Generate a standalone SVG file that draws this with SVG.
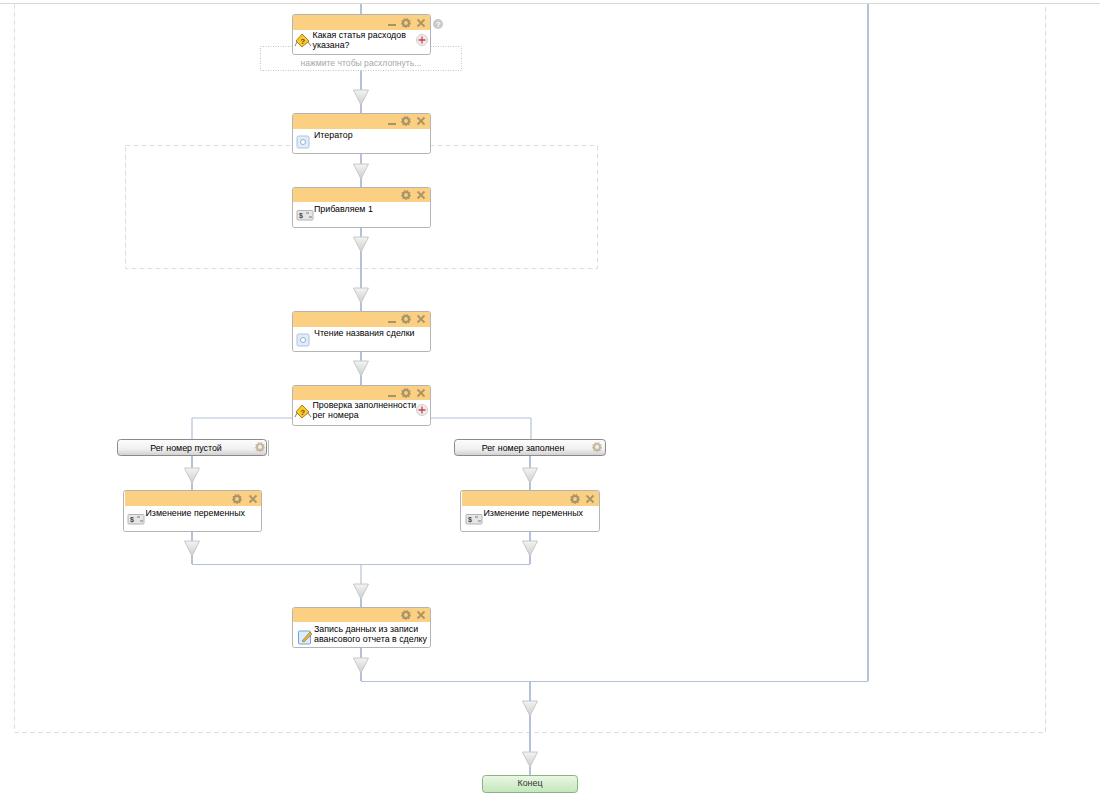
<svg xmlns="http://www.w3.org/2000/svg" width="1100" height="799" viewBox="0 0 1100 799">
<style>
text{font-family:"Liberation Sans",Arial,sans-serif;font-size:8.85px;fill:#000}
.c{fill:none;stroke:#b3c2d8;stroke-width:2}
.t{fill:none;stroke:#b3c2d8;stroke-width:1.2}
.f{fill:none;stroke:#dedede;stroke-width:1;stroke-dasharray:5 3}
.b{fill:#fff;stroke:#b4b4b4;stroke-width:1}
.h{fill:#fbd083}
.g{fill:#a89468}
.btn{fill:url(#gb);stroke:#8a8a8a;stroke-width:1}
</style>
<defs>
<linearGradient id="gb" x1="0" y1="0" x2="0" y2="1"><stop offset="0" stop-color="#fdfdfd"/><stop offset=".6" stop-color="#f0f0f0"/><stop offset="1" stop-color="#cfcfcf"/></linearGradient>
<linearGradient id="gg" x1="0" y1="0" x2="0" y2="1"><stop offset="0" stop-color="#eaf8e5"/><stop offset="1" stop-color="#c4e6bb"/></linearGradient>
<linearGradient id="gt" x1="0" y1="0" x2="0" y2="1"><stop offset="0" stop-color="#f4f4f4"/><stop offset="1" stop-color="#cdcdcd"/></linearGradient>
<g id="tri"><path d="M-7.500 0H7.500L0 15Z" fill="url(#gt)" stroke="#c8c8c8" stroke-width="1"/></g>
<g id="min"><rect x="-4" y="2" width="8" height="2" class="g"/></g>
<g id="gear"><circle r="3" fill="none" stroke="#a89468" stroke-width="2.2"/><circle r="4.4" fill="none" stroke="#a89468" stroke-width="1.1" stroke-dasharray="1.5 1.5"/></g>
<g id="x"><path d="M-3.500 -3.500L3.500 3.500M3.500 -3.500L-3.500 3.500" stroke="#a89468" stroke-width="1.8"/></g>
<g id="plus"><circle r="5.500" fill="#eee" stroke="#cfcfcf"/><path d="M-3.500 0H3.500M0 -3.500V3.500" stroke="#d4404a" stroke-width="1.3"/></g>
<g id="dec"><path d="M-2 -7L5 0L-2 6L-8 0Z" fill="#f6c92e" stroke="#b0801a"/><text x="-3.800" y="3" style="font-size:8px;font-weight:bold;fill:#7a4a10">?</text><path d="M-9 5L-7 1M7 5L4 1" stroke="#8a7a70" fill="none"/></g>
<g id="svc"><rect x="-6" y="-6" width="12" height="12" rx="1.500" fill="#e2ecf8" stroke="#a9c4e4"/><circle r="2.500" fill="#fff" stroke="#8fb0d8"/></g>
<g id="var"><rect x="-8" y="-4.500" width="16" height="9.500" rx="1" fill="#e6e6e6" stroke="#b4b4b4"/><text x="-6" y="3" style="font-size:7px;font-weight:bold;fill:#444">$</text><path d="M1 -2H4M4 2H7" stroke="#777"/></g>
<g id="edit"><rect x="-6.500" y="-6" width="12" height="13" rx="1" fill="#dcecfa" stroke="#6aa5dc"/><path d="M-3 4L5 -5L7 -3L-1 5Z" fill="#e9b23c" stroke="#8a6a20" stroke-width=".6"/></g>
</defs>
<g id="frames">
<path class="f" d="M14.500 4V732.500H1045.500V4"/>
<rect class="f" x="125.500" y="145.500" width="472" height="123"/>
</g>
<g id="connectors">
<path class="c" d="M361 4V14M361 54V113M361 153V187M361 228V311M361 352V385"/>
<path class="c" d="M361 590V607M361 648V681"/>
<path class="c" d="M192 456V490M192 532V564M530 456V490M530 532V564M868 4V681M530 681V775"/>
<path class="t" d="M192 418H293M430 418H531M192 418V440M531 418V440M192 564.500H530M361 564V590M361 681.500H868"/>
<use href="#tri" x="361" y="90"/>
<use href="#tri" x="361" y="164"/>
<use href="#tri" x="361" y="237"/>
<use href="#tri" x="361" y="288"/>
<use href="#tri" x="361" y="361"/>
<use href="#tri" x="192" y="468"/>
<use href="#tri" x="192" y="541"/>
<use href="#tri" x="530" y="468"/>
<use href="#tri" x="530" y="541"/>
<use href="#tri" x="361" y="584"/>
<use href="#tri" x="361" y="658"/>
<use href="#tri" x="530" y="701"/>
<use href="#tri" x="530" y="752"/>
</g>
<path id="topline" d="M0 3.500H1100" fill="none" stroke="#d8d8d8"/>
<g id="expand"><rect x="260.500" y="46.500" width="201" height="24" fill="#fff" stroke="#c4c4c4" stroke-dasharray="1 1.500"/><text x="361" y="66" text-anchor="middle" style="fill:#a8a8a8;font-size:8.6px">нажмите чтобы расхлопнуть...</text></g>
<g id="n1"><rect class="b" x="292.500" y="14.500" width="138" height="40" rx="2"/><rect class="h" x="293" y="15" width="137" height="15"/>
<use href="#min" x="392" y="22"/><use href="#gear" x="406" y="23"/><use href="#x" x="421" y="23"/>
<use href="#dec" x="304" y="41"/><use href="#plus" x="422" y="40"/>
<text x="312.500" y="38">Какая статья расходов</text><text x="312.500" y="48">указана?</text>
<circle cx="438" cy="24" r="5" fill="#c9c9c9"/><text x="435.800" y="27" style="font-size:8px;font-weight:bold;fill:#fff">?</text></g>
<g id="n2"><rect class="b" x="292.500" y="113.500" width="138" height="40" rx="2"/><rect class="h" x="293" y="114" width="137" height="15"/>
<use href="#min" x="392" y="121"/><use href="#gear" x="406" y="121"/><use href="#x" x="421" y="121"/>
<use href="#svc" x="303" y="142"/><text x="314" y="138">Итератор</text></g>
<g id="n3"><rect class="b" x="292.500" y="187.500" width="138" height="40" rx="2"/><rect class="h" x="293" y="188" width="137" height="14"/>
<use href="#gear" x="406" y="195"/><use href="#x" x="421" y="195"/>
<use href="#var" x="305" y="215"/><text x="314" y="212">Прибавляем 1</text></g>
<g id="n4"><rect class="b" x="292.500" y="311.500" width="138" height="40" rx="2"/><rect class="h" x="293" y="312" width="137" height="15"/>
<use href="#min" x="392" y="319"/><use href="#gear" x="406" y="319"/><use href="#x" x="421" y="319"/>
<use href="#svc" x="303" y="340"/><text x="314" y="336">Чтение названия сделки</text></g>
<g id="n5"><rect class="b" x="292.500" y="385.500" width="138" height="40" rx="2"/><rect class="h" x="293" y="386" width="137" height="14"/>
<use href="#min" x="392" y="393"/><use href="#gear" x="406" y="393"/><use href="#x" x="421" y="393"/>
<use href="#dec" x="304" y="412"/><use href="#plus" x="422" y="410"/>
<text x="312.500" y="408">Проверка заполненности</text><text x="312.500" y="418">рег номера</text></g>
<g id="b1"><rect class="btn" x="117.500" y="439.500" width="149" height="16" rx="3"/><path d="M268.500 440V456" stroke="#bbb"/><text x="186" y="451" text-anchor="middle">Рег номер пустой</text><use href="#gear" x="260" y="447" opacity=".6"/></g>
<g id="b2"><rect class="btn" x="454.500" y="439.500" width="151" height="16" rx="3"/><text x="523" y="451" text-anchor="middle">Рег номер заполнен</text><use href="#gear" x="597" y="447" opacity=".6"/></g>
<g id="n6"><rect class="b" x="123.500" y="490.500" width="138" height="41" rx="2"/><rect class="h" x="125" y="491" width="136" height="15"/>
<use href="#gear" x="237" y="499"/><use href="#x" x="253" y="499"/>
<use href="#var" x="136" y="519"/><text x="145.500" y="515.500">Изменение переменных</text></g>
<g id="n7"><rect class="b" x="460.500" y="490.500" width="139" height="41" rx="2"/><rect class="h" x="462" y="491" width="137" height="15"/>
<use href="#gear" x="575" y="499"/><use href="#x" x="590" y="499"/>
<use href="#var" x="474" y="519"/><text x="483.500" y="515.500">Изменение переменных</text></g>
<g id="n8"><rect class="b" x="292.500" y="607.500" width="138" height="40" rx="2"/><rect class="h" x="293" y="608" width="137" height="14"/>
<use href="#gear" x="406" y="615"/><use href="#x" x="421" y="615"/>
<use href="#edit" x="305" y="637"/><text x="314" y="632">Запись данных из записи</text><text x="314" y="642">авансового отчета в сделку</text></g>
<g id="end"><rect x="482.500" y="775.500" width="95" height="17" rx="3" fill="url(#gg)" stroke="#8db384"/><text x="530" y="786" text-anchor="middle" style="fill:#333">Конец</text></g>
</svg>
